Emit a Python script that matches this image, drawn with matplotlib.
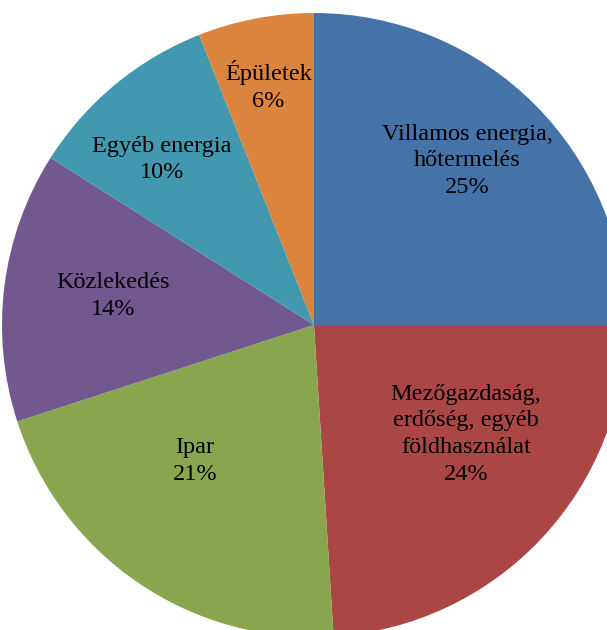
import numpy as np
import matplotlib
matplotlib.use('Agg')
from matplotlib import pyplot as plt

# adatok
labels = ['Villamos energia,\nhőtermelés', 'Mezőgazdaság,\nerdőség, egyéb\nföldhasználat',
          'Ipar', 'Közlekedés', 'Egyéb energia', 'Épületek']
values = [25, 24, 21, 14, 10, 6]
colors = ['#4572A7', '#AA4643', '#89A54E', '#71588F', '#4198AF', '#DB843D']
# feliratok elhelyezése: távolság (sugár arányában) és szögeltolás fokban
label_dist = [0.72, 0.60, 0.58, 0.65, 0.72, 0.78]
label_shift = [2, 7.5, -7, -1, 3, 0]

plt.rcParams['font.family'] = ['Liberation Serif', 'DejaVu Serif']

fig = plt.figure(figsize=(6.07, 6.30), dpi=100)
ax = fig.add_axes([0, 0, 1, 1])

cx, cy, r = 314, 305, 312
wedges, _ = ax.pie(values, colors=colors, startangle=90, counterclock=False,
                   center=(cx, cy), radius=r, frame=True)
ax.set_xlim(0, 607)
ax.set_ylim(0, 630)
ax.set_aspect('equal')
ax.axis('off')

total = sum(values)
for w, lab, v, d, s in zip(wedges, labels, values, label_dist, label_shift):
    ang = np.deg2rad((w.theta1 + w.theta2) / 2 + s)
    x = cx + d * r * np.cos(ang)
    y = cy + d * r * np.sin(ang)
    ax.text(x, y, f'{lab}\n{round(v / total * 100)}%', ha='center', va='center',
            multialignment='center', fontsize=17.5, linespacing=1.35, color='black')

fig.savefig('out.png', dpi=100)
